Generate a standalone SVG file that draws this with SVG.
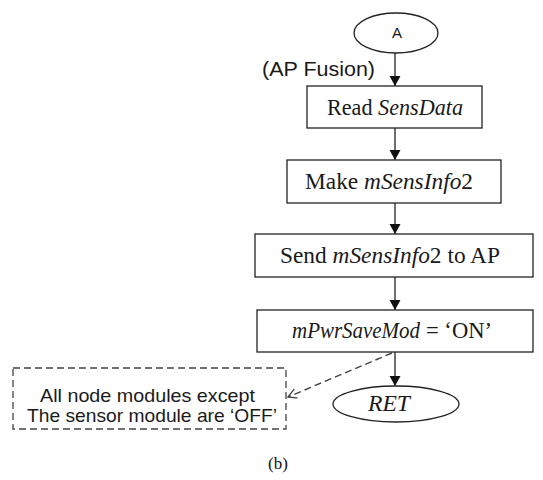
<svg xmlns="http://www.w3.org/2000/svg" width="543" height="480" viewBox="0 0 543 480">
<defs>
<style>
.box{fill:#fff;stroke:#222;stroke-width:1.3}
.lbl{font-family:"Liberation Serif","DejaVu Serif",serif;font-size:23px;fill:#1a1a1a}
.it{font-style:italic}
.sans{font-family:"Liberation Sans","DejaVu Sans",sans-serif;fill:#1a1a1a}
.conn{stroke:#222;stroke-width:1.3;fill:none}
.dash{stroke:#444;stroke-width:1.4;fill:none;stroke-dasharray:7,4}
</style>
<marker id="arr" markerUnits="userSpaceOnUse" markerWidth="12" markerHeight="12" refX="10" refY="5.5" orient="auto">
<path d="M0,0 L10,5.5 L0,11 Z" fill="#111"/>
</marker>
<marker id="open" markerUnits="userSpaceOnUse" markerWidth="12" markerHeight="12" refX="9" refY="5" orient="auto">
<path d="M0,0 L9,5 L0,10" fill="none" stroke="#444" stroke-width="1.3"/>
</marker>
</defs>
<g id="connectors">
<line class="conn" x1="395" y1="53" x2="395" y2="86" marker-end="url(#arr)"/>
<line class="conn" x1="395" y1="128" x2="395" y2="160" marker-end="url(#arr)"/>
<line class="conn" x1="395" y1="203" x2="395" y2="234" marker-end="url(#arr)"/>
<line class="conn" x1="395" y1="277" x2="395" y2="310" marker-end="url(#arr)"/>
<line class="conn" x1="395" y1="352" x2="395" y2="386" marker-end="url(#arr)"/>
<line class="dash" x1="392" y1="353" x2="288" y2="397" marker-end="url(#open)"/>
</g>
<g id="start">
<ellipse class="box" cx="396" cy="33" rx="42" ry="20"/>
<text class="sans" x="397" y="38" font-size="15" text-anchor="middle">A</text>
</g>
<g id="ap-fusion">
<text class="sans" x="262" y="76" font-size="21" textLength="113" lengthAdjust="spacingAndGlyphs">(AP Fusion)</text>
</g>
<g id="read">
<rect class="box" x="307" y="86" width="175" height="42"/>
<text class="lbl" x="327" y="115" textLength="136" lengthAdjust="spacingAndGlyphs">Read <tspan class="it">SensData</tspan></text>
</g>
<g id="make">
<rect class="box" x="287" y="160" width="214" height="43"/>
<text class="lbl" x="305" y="189" textLength="168" lengthAdjust="spacingAndGlyphs">Make <tspan class="it">mSensInfo</tspan>2</text>
</g>
<g id="send">
<rect class="box" x="255" y="234" width="278" height="43"/>
<text class="lbl" x="280" y="263" textLength="220" lengthAdjust="spacingAndGlyphs">Send <tspan class="it">mSensInfo</tspan>2 to AP</text>
</g>
<g id="pwr">
<rect class="box" x="257" y="310" width="276" height="42"/>
<text class="lbl it" x="292" y="338" textLength="128" lengthAdjust="spacingAndGlyphs">mPwrSaveMod</text>
<text class="lbl" x="426" y="338" textLength="66" lengthAdjust="spacingAndGlyphs">= ‘ON’</text>
</g>
<g id="ret">
<ellipse class="box" cx="396" cy="404" rx="63" ry="18"/>
<text class="lbl it" x="368" y="411" textLength="42" lengthAdjust="spacingAndGlyphs">RET</text>
</g>
<g id="note">
<rect x="13" y="368" width="273" height="61" fill="#fff" stroke="#444" stroke-width="1.3" stroke-dasharray="7,4"/>
<text class="sans" x="40" y="402" font-size="19" textLength="215" lengthAdjust="spacingAndGlyphs">All node modules except</text>
<text class="sans" x="27" y="422" font-size="19" textLength="250" lengthAdjust="spacingAndGlyphs">The sensor module are ‘OFF’</text>
</g>
<text x="278" y="469" font-family="Liberation Serif, serif" font-size="17" text-anchor="middle" fill="#111">(b)</text>
</svg>
